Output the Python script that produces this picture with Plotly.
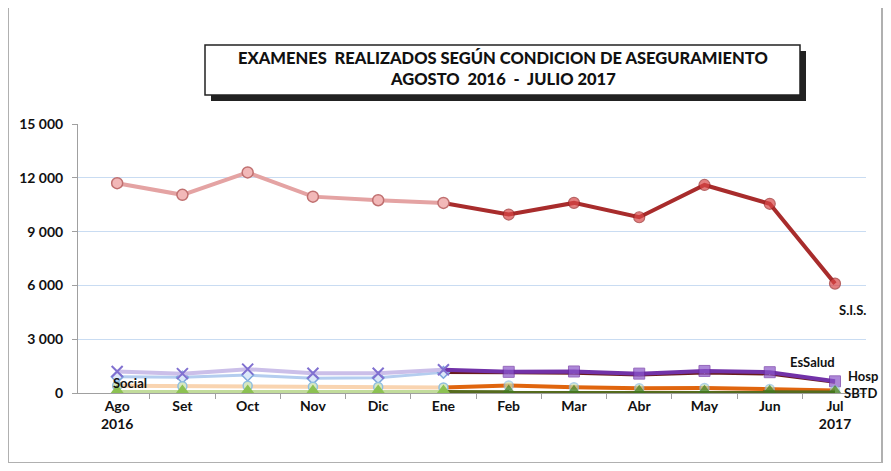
import plotly.graph_objects as go

# ---------------- data ----------------
months = ["Ago", "Set", "Oct", "Nov", "Dic", "Ene", "Feb", "Mar", "Abr", "May", "Jun", "Jul"]
years = ["2016", "", "", "", "", "", "", "", "", "", "", "2017"]
sis = [11700, 11050, 12300, 10950, 10750, 10600, 9950, 10600, 9800, 11600, 10550, 6100]
hosp = [1200, 1080, 1330, 1100, 1100, 1300, 1180, 1200, 1080, 1230, 1160, 650]
essalud = [900, 880, 1000, 820, 850, 1150, 1120, 1100, 1000, 1120, 1060, 600]
social = [400, 380, 400, 350, 330, 310, 420, 320, 270, 280, 230, 140]
sbtd = [80, 80, 80, 80, 80, 80, 80, 70, 70, 70, 70, 60]
split = 5  # index of "Ene": data up to it drawn in faded colours

title_lines = ["EXAMENES  REALIZADOS SEGÚN CONDICION DE ASEGURAMIENTO",
               "AGOSTO  2016  -  JULIO 2017"]
labels = [m + ("<br>" + y if y else "") for m, y in zip(months, years)]

O = 8  # page body margin
W, H = 891 - 2 * O, 471 - 2 * O
L, R, T, B = 78 - O, 866 - O, 124 - O, 393 - O


def px(x):
    return (x - O - L) / (R - L)


def py(y):
    return (B - (y - O)) / (B - T)


fig = go.Figure()


def add_series(vals, light, dark, light_marker, dark_marker, width):
    xi = list(range(len(vals)))
    xs = xi[split:]
    ys = vals[split:]
    dm = dict(dark_marker)
    dm["size"] = [0] + [dark_marker["size"]] * (len(xs) - 1)
    fig.add_trace(go.Scatter(x=xs, y=ys, mode="lines+markers",
                             line=dict(color=dark, width=width),
                             marker=dm, showlegend=False, hoverinfo="skip"))
    fig.add_trace(go.Scatter(x=xi[:split + 1], y=vals[:split + 1], mode="lines+markers",
                             line=dict(color=light, width=width),
                             marker=light_marker, showlegend=False, hoverinfo="skip"))


add_series(essalud, "#b4cdef", "#6a1c1c",
           dict(symbol="diamond", size=9, color="#dbe8f8", line=dict(color="#7ea6dc", width=1.5)),
           dict(symbol="diamond", size=1, color="#6a1c1c"), 3)
add_series(hosp, "#cbbfe9", "#7232a8",
           dict(symbol="x-thin", size=11, color="#8070d0", line=dict(color="#8070d0", width=2)),
           dict(symbol="square", size=11, color="#8a55c8", line=dict(color="#6a2aa0", width=1)), 4)
add_series(social, "#f9d4b0", "#e0650e",
           dict(symbol="circle", size=9, color="#d8e8c0", line=dict(color="#8fbfe0", width=1.5)),
           dict(symbol="circle", size=9, color="#c8e0b0", line=dict(color="#8fbfe0", width=1.5)), 4)
add_series(sbtd, "#c2dc9c", "#556b1e",
           dict(symbol="triangle-up", size=14, color="#8cc152", line=dict(color="#8cc152", width=0)),
           dict(symbol="triangle-up", size=14, color="#3f7a1c", line=dict(color="#3f7a1c", width=0)), 3)
add_series(sis, "#e4a3a3", "#a82c2c",
           dict(symbol="circle", size=11, color="#f2b8b8", line=dict(color="#c07070", width=1.5)),
           dict(symbol="circle", size=11, color="#d94848", line=dict(color="#9a2525", width=1.2)), 4)

font = "Lato"
tick_font = dict(family=font, size=14, color="#111", weight="bold")

fig.update_layout(
    width=W, height=H,
    margin=dict(l=L, r=W - R, t=T, b=H - B, autoexpand=False),
    paper_bgcolor="white", plot_bgcolor="white",
    separators=", ",
    xaxis=dict(
        type="linear", range=[-0.6, 11.475],
        tickvals=list(range(len(months))), ticktext=labels,
        showgrid=False, zeroline=False,
        showline=True, linecolor="#a0a0a0", linewidth=1,
        ticks="", tickfont=tick_font,
        minor=dict(tickvals=[i + 0.5 for i in range(len(months) - 1)],
                   ticks="outside", ticklen=5, tickcolor="#a0a0a0", showgrid=False),
    ),
    yaxis=dict(
        range=[0, 15000], tickvals=[0, 3000, 6000, 9000, 12000, 15000],
        tickformat=",d",
        showgrid=True, gridcolor="#c9dcf2", gridwidth=1,
        zeroline=False, showline=True, linecolor="#a0a0a0", linewidth=1,
        ticks="outside", ticklen=5, tickcolor="#a0a0a0",
        tickfont=tick_font, ticklabelstandoff=6,
    ),
)

shapes = []
shapes.append(dict(type="rect", xref="paper", yref="paper", layer="below",
                   x0=px(8), x1=px(882), y0=py(463), y1=py(6),
                   line=dict(color="#b0b0b0", width=2)))
shapes.append(dict(type="rect", xref="paper", yref="paper",
                   x0=px(211), x1=px(806), y0=py(101), y1=py(51),
                   fillcolor="#222", line=dict(width=0)))
shapes.append(dict(type="rect", xref="paper", yref="paper",
                   x0=px(205), x1=px(800), y0=py(95), y1=py(45),
                   fillcolor="white", line=dict(color="#222", width=1.5)))
fig.update_layout(shapes=shapes)

ann = []
title_font = dict(family=font, size=16.5, color="#111", weight=900)
for txt, y in zip(title_lines, [58, 79]):
    ann.append(dict(xref="paper", yref="paper", x=px(503), y=py(y), yanchor="middle",
                    xanchor="center", showarrow=False, text=txt, font=title_font))
lab_font = dict(family=font, size=13, color="#111", weight="bold")
for txt, x, y in [("S.I.S.", 852, 310), ("EsSalud", 812, 362), ("Hosp", 863, 376),
                  ("SBTD", 860, 393), ("Social", 130, 383)]:
    ann.append(dict(xref="paper", yref="paper", x=px(x), y=py(y), showarrow=False,
                    xanchor="center", yanchor="middle", text=txt, font=lab_font))
fig.update_layout(annotations=ann)

fig.write_html("out.html")
